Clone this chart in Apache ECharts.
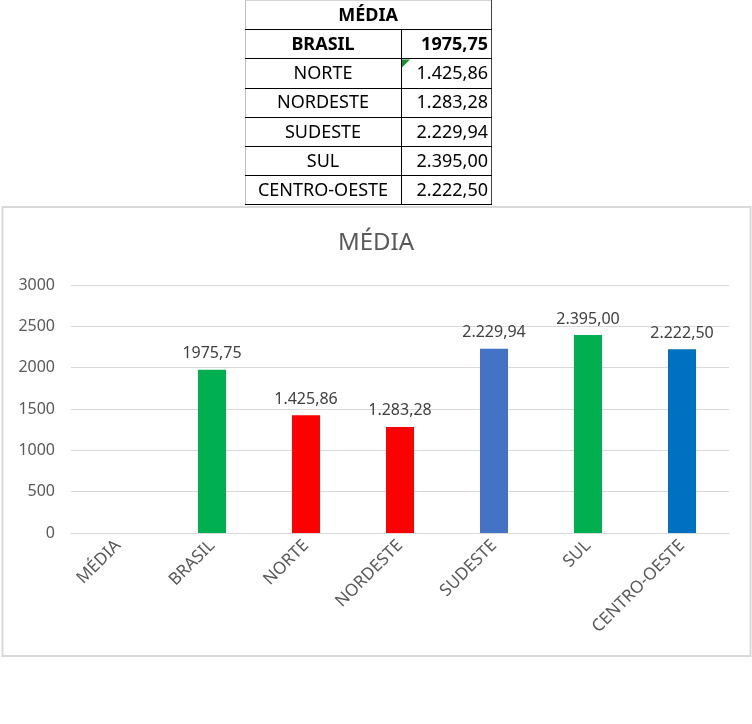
<!DOCTYPE html>
<html>
<head>
<meta charset="utf-8">
<script src="https://cdn.jsdelivr.net/npm/echarts@6/dist/echarts.min.js"></script>
<style>html,body{margin:0;padding:0;background:#fff;}#c{width:752px;height:724px;}</style>
</head>
<body>
<div id="c"></div>
<script>
const chartTitle = 'MÉDIA';
const categories = ['MÉDIA', 'BRASIL', 'NORTE', 'NORDESTE', 'SUDESTE', 'SUL', 'CENTRO-OESTE'];
const values = [null, 1975.75, 1425.86, 1283.28, 2229.94, 2395.00, 2222.50];
const valueLabels = ['', '1975,75', '1.425,86', '1.283,28', '2.229,94', '2.395,00', '2.222,50'];
const barColors = ['#00B050', '#00B050', '#FF0000', '#FF0000', '#4472C4', '#00B050', '#0070C0'];
const yMin = 0, yMax = 3000, yStep = 500;

const tableHeader = 'MÉDIA';
const tableRegions = categories.slice(1);
const tableValues = valueLabels.slice(1);

const FONT = 'Noto Sans';
const tX0 = 245, tX1 = 401, tX2 = 491;
const rowH = 29.2;
const graphics = [];
// chart frame
graphics.push({type: 'rect', shape: {x: 2.5, y: 207, width: 748, height: 449}, style: {fill: null, stroke: '#D9D9D9', lineWidth: 2}, z: 0});
// table frame
graphics.push({type: 'line', shape: {x1: tX0, y1: 0.5, x2: tX2, y2: 0.5}, style: {stroke: '#D4D4D4', lineWidth: 1}});
graphics.push({type: 'line', shape: {x1: tX0 + 0.5, y1: 0, x2: tX0 + 0.5, y2: 7 * rowH + 0.5}, style: {stroke: '#BFBFBF', lineWidth: 1}});
graphics.push({type: 'line', shape: {x1: tX2 + 0.5, y1: 0, x2: tX2 + 0.5, y2: 7 * rowH + 0.5}, style: {stroke: '#404040', lineWidth: 1}});
graphics.push({type: 'line', shape: {x1: tX1 + 0.5, y1: rowH, x2: tX1 + 0.5, y2: 7 * rowH}, style: {stroke: '#000', lineWidth: 1}});
for (let i = 1; i <= 7; i++) {
  const y = Math.round(i * rowH) + 0.5;
  graphics.push({type: 'line', shape: {x1: tX0, y1: y, x2: tX2 + 1, y2: y}, style: {stroke: '#000', lineWidth: 1}});
}
graphics.push({type: 'text', x: (tX0 + tX2) / 2, y: rowH / 2 + 1, style: {text: tableHeader, font: 'bold 18px "' + FONT + '"', fill: '#000', textAlign: 'center', textVerticalAlign: 'middle'}});
tableRegions.forEach((r, i) => {
  const cy = (i + 1.5) * rowH + 1;
  const bold = i === 0 ? 'bold ' : '';
  graphics.push({type: 'text', x: (tX0 + tX1) / 2, y: cy, style: {text: r, font: bold + '18px "' + FONT + '"', fill: '#000', textAlign: 'center', textVerticalAlign: 'middle'}});
  graphics.push({type: 'text', x: tX2 - 3, y: cy, style: {text: tableValues[i], font: bold + '18px "' + FONT + '"', fill: '#000', textAlign: 'right', textVerticalAlign: 'middle'}});
});
// excel green corner indicator in NORTE value cell
graphics.push({type: 'polygon', shape: {points: [[tX1 + 1, 2 * rowH + 1], [tX1 + 9, 2 * rowH + 1], [tX1 + 1, 2 * rowH + 9]]}, style: {fill: '#1E8A3A'}});

const chart = echarts.init(document.getElementById('c'), null, {renderer: 'canvas'});
chart.setOption({
  backgroundColor: '#fff',
  animation: false,
  title: {text: chartTitle, left: 'center', top: 226, textStyle: {fontFamily: FONT, fontSize: 24, fontWeight: 'normal', color: '#595959'}},
  grid: {left: 71, right: 23, top: 285, bottom: 191, containLabel: false},
  xAxis: {
    type: 'category', data: categories,
    axisLine: {lineStyle: {color: '#D9D9D9', width: 1}},
    axisTick: {show: false},
    axisLabel: {rotate: 45, interval: 0, margin: 10, color: '#595959', fontFamily: FONT, fontSize: 17}
  },
  yAxis: {
    type: 'value', min: yMin, max: yMax, interval: yStep,
    axisLine: {show: false}, axisTick: {show: false},
    splitLine: {lineStyle: {color: '#D9D9D9', width: 1}},
    axisLabel: {margin: 16, color: '#595959', fontFamily: FONT, fontSize: 16, formatter: v => String(v)}
  },
  series: [{
    type: 'bar', barWidth: 28,
    data: values.map((v, i) => ({value: v, itemStyle: {color: barColors[i]}})),
    label: {show: true, position: 'top', distance: 8, color: '#404040', fontFamily: FONT, fontSize: 16,
      formatter: p => valueLabels[p.dataIndex] || ''}
  }],
  graphic: graphics
});
</script>
</body>
</html>
